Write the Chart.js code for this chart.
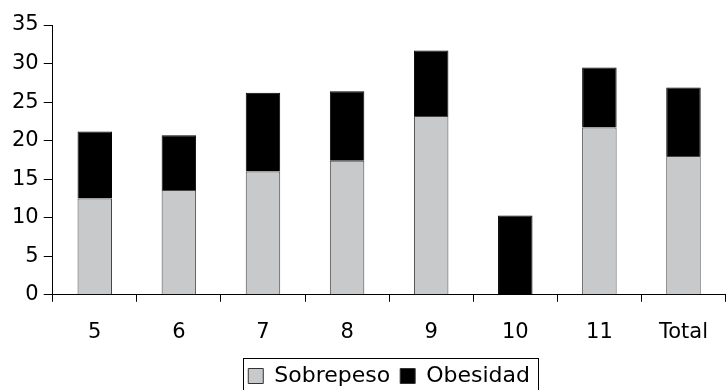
<!DOCTYPE html>
<html>
<head>
<meta charset="utf-8">
<script src="https://cdn.jsdelivr.net/npm/chart.js@4/dist/chart.umd.min.js"></script>
<style>
  html, body { margin: 0; padding: 0; background: #fff; }
  #wrap { width: 726px; height: 390px; position: relative; }
</style>
</head>
<body>
<div id="wrap"><canvas id="c"></canvas></div>
<script>
// Age groups on the x axis
const categories = ['5', '6', '7', '8', '9', '10', '11', 'Total'];
// Percentages per age group
const sobrepeso = [12.5, 13.6, 16.0, 17.4, 23.2, 0, 21.7, 18.0];
const obesidad  = [8.7, 7.1, 10.2, 9.0, 8.5, 10.3, 7.8, 8.9];
const yTicks = [0, 5, 10, 15, 20, 25, 30, 35];

const FONT = 'DejaVu Sans';

// Frame around the legend
const legendFrame = {
  id: 'legendFrame',
  afterDraw(chart) {
    const boxes = chart.legend && chart.legend.legendHitBoxes;
    if (!boxes || !boxes.length) return;
    let l = Infinity, r = -Infinity, t = Infinity, b = -Infinity;
    boxes.forEach(h => {
      l = Math.min(l, h.left); r = Math.max(r, h.left + h.width);
      t = Math.min(t, h.top); b = Math.max(b, h.top + h.height);
    });
    const ctx = chart.ctx;
    ctx.save();
    ctx.strokeStyle = '#000';
    ctx.lineWidth = 1;
    const x0 = Math.round(l - 5) + 0.5, y0 = Math.round(t - 7) + 0.5;
    ctx.strokeRect(x0, y0, Math.round(r + 8) - x0 + 0.5, Math.round(b + 8) - y0 + 0.5);
    ctx.restore();
  }
};

new Chart(document.getElementById('c'), {
  type: 'bar',
  data: {
    labels: categories,
    datasets: [
      {
        label: 'Sobrepeso',
        data: sobrepeso,
        backgroundColor: '#c8c9cb',
        borderColor: '#444',
        borderWidth: 1,
        borderSkipped: 'bottom'
      },
      {
        label: 'Obesidad',
        data: obesidad,
        backgroundColor: '#000',
        borderColor: '#000',
        borderWidth: 1
      }
    ]
  },
  options: {
    responsive: true,
    maintainAspectRatio: false,
    animation: false,
    devicePixelRatio: 1,
    layout: { padding: { top: 25, right: 0, left: 7, bottom: -7 } },
    datasets: { bar: { categoryPercentage: 1, barPercentage: 0.41 } },
    scales: {
      x: {
        stacked: true,
        offset: true,
        grid: {
          offset: true,
          drawOnChartArea: false,
          drawTicks: true,
          tickLength: 7,
          color: '#000'
        },
        border: { display: true, color: '#000', width: 1 },
        ticks: {
          color: '#000',
          font: { family: FONT, size: 21 },
          padding: 18,
          maxRotation: 0
        },
        // tighten the space between the tick labels and the legend
        afterFit(scale) { scale.height -= 8; }
      },
      y: {
        stacked: true,
        min: 0,
        max: 35,
        afterBuildTicks(axis) { axis.ticks = yTicks.map(v => ({ value: v })); },
        grid: {
          drawOnChartArea: false,
          drawTicks: true,
          tickLength: 9,
          color: '#000'
        },
        border: { display: true, color: '#000', width: 1 },
        ticks: {
          color: '#000',
          font: { family: FONT, size: 21 },
          padding: 5
        }
      }
    },
    plugins: {
      legend: {
        position: 'bottom',
        fullSize: false,
        labels: {
          color: '#000',
          font: { family: FONT, size: 22 },
          boxWidth: 15,
          boxHeight: 15,
          padding: 10,
          generateLabels(chart) {
            return chart.data.datasets.map((ds, i) => ({
              text: ds.label,
              fillStyle: ds.backgroundColor,
              strokeStyle: '#333',
              lineWidth: 1,
              datasetIndex: i,
              hidden: false
            }));
          }
        }
      },
      tooltip: { enabled: false }
    }
  },
  plugins: [legendFrame]
});
</script>
</body>
</html>
